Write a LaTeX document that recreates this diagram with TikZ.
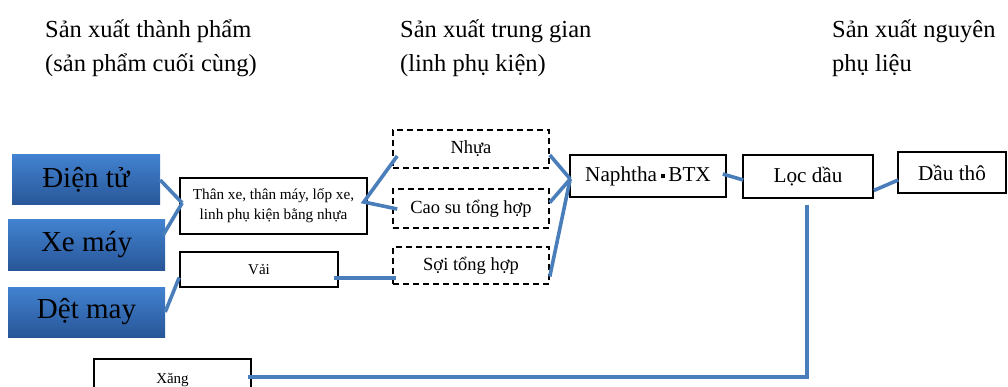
\documentclass[tikz,border=0pt]{standalone}
\usepackage{fontspec}
\setmainfont{Liberation Serif}
\usetikzlibrary{calc}
\definecolor{linkblue}{RGB}{74,126,187}
\definecolor{boxtop}{RGB}{66,130,208}
\definecolor{boxbot}{RGB}{40,86,152}
\tikzset{
  bluebox/.style={rectangle, draw=none, top color=boxtop, bottom color=boxbot, inner sep=0pt, font=\fontsize{29}{32}\selectfont},
  solidbox/.style={rectangle, draw=black, line width=1.6pt, fill=white, inner sep=0pt},
  dashbox/.style={rectangle, draw=black, line width=1.6pt, dash pattern=on 6pt off 4pt, fill=white, inner sep=0pt, font=\fontsize{18.5}{21}\selectfont},
  bigtext/.style={font=\fontsize{21.2}{24}\selectfont},
  link/.style={draw=linkblue, line width=3.6pt},
  head/.style={anchor=base west, inner sep=0pt, font=\fontsize{24.5}{28}\selectfont}
}
\begin{document}
\begin{tikzpicture}[x=1pt,y=-1pt]
\useasboundingbox (0,0) rectangle (1008,387);
% headings
\node[head] (h1a) at (45,38) {Sản xuất thành phẩm};
\node[head] (h1b) at (45,72) {(sản phẩm cuối cùng)};
\node[head] (h2a) at (400,38) {Sản xuất trung gian};
\node[head] (h2b) at (400,72) {(linh phụ kiện)};
\node[head] (h3a) at (832,38) {Sản xuất nguyên};
\node[head] (h3b) at (832,72) {phụ liệu};
% final products
\node[bluebox, minimum width=148pt, minimum height=50pt] (dien) at (86,180) {Điện tử};
\node[bluebox, minimum width=157pt, minimum height=50pt] (xemay) at (86.5,245) {Xe máy};
\node[bluebox, minimum width=157pt, minimum height=50pt] (detmay) at (86.5,312) {Dệt may};
% parts
\node[solidbox, minimum width=187pt, minimum height=56pt, align=center, font=\fontsize{15.2}{20}\selectfont] (thanxe) at (273.5,206) {Thân xe, thân máy, lốp xe,\\linh phụ kiện bằng nhựa};
\node[solidbox, minimum width=158pt, minimum height=35pt, font=\fontsize{15}{17}\selectfont] (vai) at (259,269.5) {Vải};
\node[solidbox, minimum width=157pt, minimum height=42pt, font=\fontsize{15}{17}\selectfont] (xang) at (172.5,380) {Xăng};
% intermediate
\node[dashbox, minimum width=156pt, minimum height=38pt] (nhua) at (471,149) {Nhựa};
\node[dashbox, minimum width=156pt, minimum height=39pt] (caosu) at (471,208.5) {Cao su tổng hợp};
\node[dashbox, minimum width=156pt, minimum height=37pt] (soi) at (471,265.5) {Sợi tổng hợp};
% raw
\node[solidbox, bigtext, minimum width=156pt, minimum height=42pt] (naphtha) at (648,176) {Naphtha\,\raisebox{0.28ex}{\rule{0.2em}{0.2em}}\,BTX};
\node[solidbox, bigtext, minimum width=130pt, minimum height=43pt] (locdau) at (808,176.5) {Lọc dầu};
\node[solidbox, bigtext, minimum width=108pt, minimum height=41pt] (dautho) at (952,172.5) {Dầu thô};
% connectors
\draw[link] (dien.east) -- ($(thanxe.west)+(3,-3)$);
\draw[link] ($(xemay.east)+(-2,-10)$) -- ($(thanxe.west)+(3,-3)$);
\draw[link] (detmay.east) -- ($(vai.west)+(0,8)$);
\draw[link] ($(vai.east)+(-5,8.5)$) -- ($(soi.west)+(4,12.5)$);
\draw[link] ($(nhua.west)+(5,7)$) -- ($(thanxe.east)+(-4,-4)$) -- ($(caosu.west)+(5,0.5)$);
\draw[link] ($(nhua.east)+(0,6)$) -- ($(naphtha.west)+(1,3)$);
\draw[link] ($(caosu.east)+(0,-6)$) -- ($(naphtha.west)+(1,3)$);
\draw[link] ($(soi.east)+(0,11)$) -- ($(naphtha.west)+(1,3)$);
\draw[link] ($(naphtha.east)+(-4,-2)$) -- ($(locdau.west)+(1,3.5)$);
\draw[link] ($(locdau.east)+(0,14)$) -- ($(dautho.west)+(1,7.5)$);
\draw[link] ($(locdau.south)+(-1,6)$) |- ($(xang.east)+(-4,-3)$);
\end{tikzpicture}
\end{document}
